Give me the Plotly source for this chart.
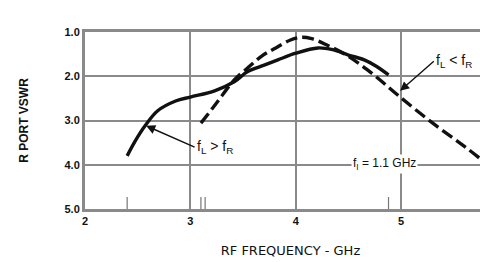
import plotly.graph_objects as go

# --- data ---
solid_x = [2.40, 2.48, 2.57, 2.69, 2.86, 3.00, 3.23, 3.42, 3.54, 3.70, 3.83, 4.00, 4.21, 4.35, 4.50, 4.65, 4.76, 4.88]
solid_y = [3.80, 3.45, 3.12, 2.78, 2.56, 2.47, 2.33, 2.12, 1.90, 1.75, 1.63, 1.48, 1.36, 1.40, 1.52, 1.63, 1.77, 1.97]

dash_x = [3.10, 3.25, 3.41, 3.55, 3.68, 3.81, 3.95, 4.05, 4.15, 4.30, 4.50, 4.73, 4.98, 5.30, 5.62, 5.90]
dash_y = [3.06, 2.60, 2.10, 1.80, 1.54, 1.36, 1.18, 1.12, 1.15, 1.30, 1.55, 1.95, 2.45, 3.06, 3.62, 4.15]

mark_freqs = [2.40, 3.10, 3.14, 4.88]
mark_top = 4.73
y_bottom = 5.0

x_ticks = [2, 3, 4, 5]
y_ticks = [1.0, 2.0, 3.0, 4.0, 5.0]
y_tick_labels = ["1.0", "2.0", "3.0", "4.0", "5.0"]

FONT = "Liberation Sans"
INK = "#111111"
GRID = "#8a8a8a"

fig = go.Figure()

# small frequency marks at bottom
mx, my = [], []
for f in mark_freqs:
    mx += [f, f, None]
    my += [y_bottom, mark_top, None]
fig.add_trace(go.Scatter(x=mx, y=my, mode="lines", line=dict(color="#777777", width=1.2),
                         hoverinfo="skip", showlegend=False))

fig.add_trace(go.Scatter(x=solid_x, y=solid_y, mode="lines", line=dict(color=INK, width=3.4, shape="spline"),
                         showlegend=False))
fig.add_trace(go.Scatter(x=dash_x, y=dash_y, mode="lines",
                         line=dict(color=INK, width=3.4, dash="12px,5px", shape="spline"),
                         showlegend=False))

fig.add_annotation(x=2.58, y=3.12, ax=3.04, ay=3.60, axref="x", ayref="y",
                   text="f<sub>L</sub> > f<sub>R</sub>", showarrow=True, arrowhead=2, arrowsize=1.3,
                   arrowwidth=1.4, arrowcolor=INK, xanchor="left",
                   font=dict(family=FONT, size=14, color=INK))
fig.add_annotation(x=4.99, y=2.33, ax=5.31, ay=1.66, axref="x", ayref="y",
                   text="f<sub>L</sub> < f<sub>R</sub>", showarrow=True, arrowhead=2, arrowsize=1.3,
                   arrowwidth=1.4, arrowcolor=INK, xanchor="left",
                   font=dict(family=FONT, size=14, color=INK))
fig.add_annotation(x=4.84, y=3.98, text="f<sub>I</sub> = 1.1 GHz", showarrow=False,
                   bgcolor="white", font=dict(family=FONT, size=12, color=INK))

fig.update_xaxes(range=[2, 5.9], tickvals=x_ticks, ticktext=["<b>%d</b>" % t for t in x_ticks],
                 showgrid=True, gridcolor=GRID, gridwidth=1.5,
                 showline=True, linecolor=GRID, linewidth=3, mirror=True,
                 ticks="", zeroline=False,
                 tickfont=dict(family=FONT, size=11, color=INK),
                 title=dict(text="RF FREQUENCY - GHz", font=dict(family="DejaVu Sans", size=13, color=INK),
                            standoff=20))
fig.update_yaxes(range=[5, 1], tickvals=y_ticks, ticktext=["<b>%s</b>" % s for s in y_tick_labels],
                 showgrid=True, gridcolor=GRID, gridwidth=1.5,
                 showline=True, linecolor=GRID, linewidth=3,
                 ticks="", zeroline=False,
                 tickfont=dict(family=FONT, size=11, color=INK),
                 title=dict(text="<b>R PORT VSWR</b>", font=dict(family=FONT, size=12, color=INK),
                            standoff=34))

fig.update_layout(width=488, height=262, margin=dict(l=77, r=0, t=24, b=61),
                  paper_bgcolor="white", plot_bgcolor="white")

fig.write_html("out.html")
